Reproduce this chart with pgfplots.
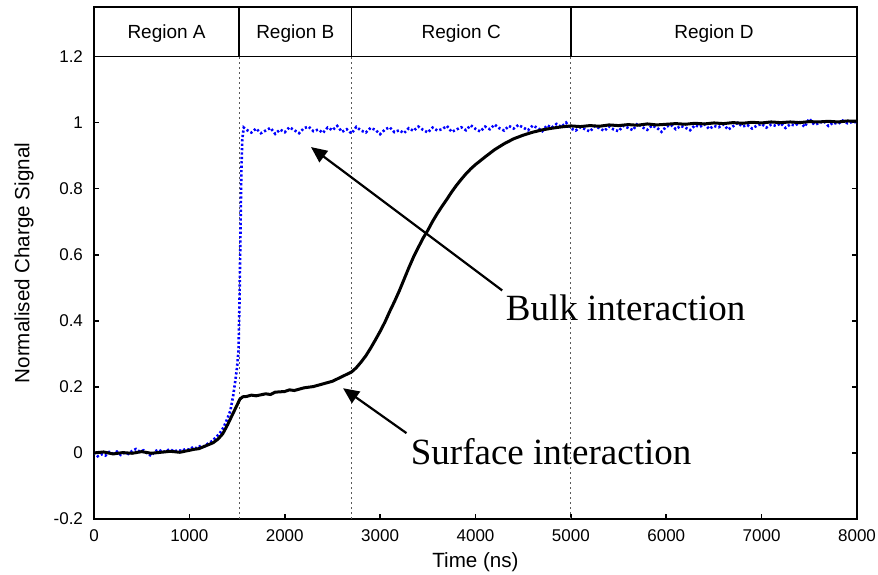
\documentclass[border=0pt]{standalone}
\usepackage{pgfplots}
\pgfplotsset{compat=1.18}
\usepackage{pgfplotstable}
\usepackage{fontspec}
\setmainfont{Liberation Sans}
\newfontfamily\timesfont{Liberation Serif}
\usetikzlibrary{arrows.meta}

\pgfplotstableread{
x y
0 0.002
40 -0.010
80 -0.004
120 -0.008
160 0.003
200 -0.002
240 0.004
280 -0.006
320 0.001
360 -0.003
400 0.006
440 0.012
480 0.004
520 0.008
560 -0.002
600 -0.009
640 0.005
680 0.010
720 0.002
760 0.007
800 0.011
840 0.004
880 0.009
920 0.006
960 0.012
1000 0.010
1040 0.018
1080 0.014
1120 0.022
1160 0.020
1200 0.030
1240 0.036
1280 0.048
1320 0.060
1360 0.078
1400 0.105
1430 0.128
1460 0.175
1480 0.215
1500 0.260
1515 0.310
1525 0.450
1535 0.650
1545 0.850
1555 0.950
1570 0.985
1600 0.978
1650 0.970
1700 0.982
1750 0.968
1800 0.976
1850 0.984
1900 0.966
1950 0.979
2000 0.971
2050 0.986
2100 0.977
2150 0.968
2200 0.983
2250 0.988
2300 0.974
2350 0.979
2400 0.969
2450 0.985
2500 0.977
2550 0.990
2600 0.972
2650 0.980
2700 0.967
2750 0.987
2800 0.976
2850 0.970
2900 0.984
2950 0.978
3000 0.965
3050 0.979
3100 0.986
3150 0.971
3200 0.977
3250 0.968
3300 0.983
3350 0.975
3400 0.988
3450 0.978
3500 0.970
3550 0.985
3600 0.976
3650 0.980
3700 0.990
3750 0.972
3800 0.979
3850 0.986
3900 0.977
3950 0.992
4000 0.981
4050 0.973
4100 0.988
4150 0.980
4200 0.994
4250 0.983
4300 0.976
4350 0.990
4400 0.982
4450 0.993
4500 0.985
4550 0.977
4600 0.991
4650 0.984
4700 0.974
4750 0.992
4800 0.985
4850 0.996
4900 0.987
4950 1.000
5000 0.982
5050 0.976
5100 0.986
5150 0.980
5200 0.973
5250 0.989
5300 0.983
5350 0.975
5400 0.988
5450 0.979
5500 0.974
5550 0.990
5600 0.984
5650 0.977
5700 0.998
5750 0.986
5800 0.978
5850 0.991
5900 0.985
5950 0.972
6000 0.988
6050 0.993
6100 0.980
6150 0.990
6200 0.985
6250 0.977
6300 0.992
6350 0.987
6400 0.995
6450 0.981
6500 0.990
6550 0.986
6600 0.994
6650 0.979
6700 0.989
6750 0.999
6800 0.988
6850 0.993
6900 0.982
6950 0.991
7000 0.996
7050 0.985
7100 0.994
7150 0.990
7200 0.998
7250 0.984
7300 0.995
7350 0.991
7400 1.001
7450 0.987
7500 1.012
7550 0.994
7600 0.998
7650 1.005
7700 0.990
7750 1.000
7800 0.996
7850 1.006
7900 0.998
7950 1.002
8000 1.001
}\bulk

\pgfplotstableread{
x y
0 0.000
100 0.003
200 -0.003
300 0.001
400 -0.001
500 0.004
600 -0.001
700 0.002
800 0.005
900 0.002
1000 0.008
1050 0.011
1100 0.013
1150 0.019
1200 0.025
1250 0.031
1300 0.042
1350 0.058
1400 0.085
1450 0.115
1500 0.145
1530 0.163
1560 0.170
1600 0.171
1650 0.175
1700 0.173
1800 0.179
1850 0.177
1900 0.184
2000 0.186
2050 0.191
2100 0.189
2200 0.197
2300 0.201
2400 0.209
2500 0.217
2600 0.231
2700 0.245
2750 0.258
2800 0.275
2850 0.294
2900 0.317
2950 0.342
3000 0.368
3050 0.396
3100 0.428
3150 0.458
3200 0.490
3250 0.525
3300 0.560
3350 0.593
3400 0.622
3450 0.650
3500 0.674
3550 0.701
3600 0.725
3650 0.747
3700 0.768
3750 0.790
3800 0.810
3850 0.828
3900 0.845
3950 0.860
4000 0.873
4100 0.896
4200 0.918
4300 0.936
4400 0.951
4500 0.962
4600 0.971
4700 0.978
4800 0.983
4900 0.987
5000 0.990
5100 0.988
5200 0.991
5300 0.989
5400 0.993
5500 0.991
5600 0.994
5700 0.992
5800 0.996
5900 0.993
6000 0.995
6100 0.997
6200 0.995
6300 0.998
6400 0.996
6500 0.999
6600 0.997
6700 1.000
6800 0.998
6900 1.001
7000 0.999
7100 1.002
7200 1.000
7300 1.002
7400 1.000
7500 1.003
7600 1.002
7700 1.004
7800 1.002
7900 1.005
8000 1.004
}\surface

\begin{document}
\begin{tikzpicture}
\begin{axis}[
  scale only axis, width=381.5pt, height=256pt,
  xmin=0, xmax=8000, ymin=-0.2, ymax=1.35,
  axis line style={line width=0.8pt},
  xtick={0,1000,2000,3000,4000,5000,6000,7000,8000},
  xticklabels={0,1000,2000,3000,4000,5000,6000,7000,8000},
  ytick={-0.2,0,0.2,0.4,0.6,0.8,1,1.2},
  yticklabels={-0.2,0,0.2,0.4,0.6,0.8,1,1.2},
  xtick pos=bottom, ytick pos=both, tick align=inside,
  major tick length=2.5pt, tick style={line width=0.8pt, black},
  tick label style={font=\fontsize{8.5}{9}\selectfont},
  xticklabel style={yshift=-2pt},
  yticklabel style={xshift=-2pt},
  xlabel={Time (ns)}, ylabel={Normalised Charge Signal},
  label style={font=\fontsize{10.3}{11}\selectfont},
  xlabel style={at={(axis description cs:0.5,-0.084)}, anchor=center},
  ylabel style={at={(axis description cs:-0.0917,0.5)}, anchor=center},
]
\coordinate (O) at (rel axis cs:0,0);
\coordinate (T) at (rel axis cs:1,1);
% region separators
\draw[gray!70!black, line width=0.4pt, dash pattern=on 1pt off 1.5pt] (axis cs:1523,-0.2) -- (axis cs:1523,1.2);
\draw[gray!70!black, line width=0.4pt, dash pattern=on 1pt off 1.5pt] (axis cs:2700,-0.2) -- (axis cs:2700,1.2);
\draw[gray!70!black, line width=0.4pt, dash pattern=on 1pt off 1.5pt] (axis cs:5000,-0.2) -- (axis cs:5000,1.2);
\draw[line width=0.8pt] (axis cs:0,1.2) -- (axis cs:8000,1.2);
\draw[line width=0.8pt] (axis cs:1523,1.2) -- (axis cs:1523,1.35);
\draw[line width=0.8pt] (axis cs:2700,1.2) -- (axis cs:2700,1.35);
\draw[line width=0.8pt] (axis cs:5000,1.2) -- (axis cs:5000,1.35);
\node[font=\fontsize{9.5}{10}\selectfont] at (axis cs:761,1.268) {Region A};
\node[font=\fontsize{9.5}{10}\selectfont] at (axis cs:2111,1.268) {Region B};
\node[font=\fontsize{9.5}{10}\selectfont] at (axis cs:3850,1.268) {Region C};
\node[font=\fontsize{9.5}{10}\selectfont] at (axis cs:6500,1.268) {Region D};

\addplot[blue, line width=1.3pt, dash pattern=on 1.1pt off 1.1pt] table[x=x,y=y] {\bulk};
\addplot[black, line width=1.5pt] table[x=x,y=y] {\surface};

\draw[-{Triangle[length=8pt,width=7pt]}, line width=1.1pt] (axis cs:4280,0.492) -- (axis cs:2275,0.926);
\draw[-{Triangle[length=8pt,width=7pt]}, line width=1.1pt] (axis cs:3276,0.060) -- (axis cs:2611,0.196);
\node[anchor=base west, inner sep=0pt, font=\timesfont\fontsize{18.5}{20}\selectfont] at (axis cs:4315,0.401) {Bulk interaction};
\node[anchor=base west, inner sep=0pt, font=\timesfont\fontsize{18.5}{20}\selectfont] at (axis cs:3318,-0.036) {Surface interaction};
\end{axis}
\pgfresetboundingbox
\path ([shift={(-47pt,-27.5pt)}]O) rectangle ([shift={(10.5pt,3.5pt)}]T);
\end{tikzpicture}
\end{document}
